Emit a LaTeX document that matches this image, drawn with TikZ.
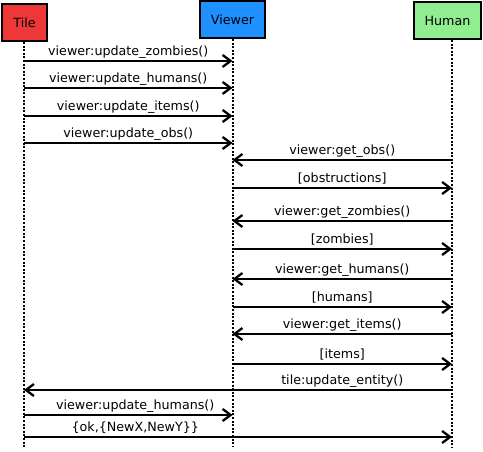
\documentclass[tikz,border=0pt]{standalone}
\usepackage{fontspec}
\setmainfont{DejaVu Sans}
\usepackage{tikz}
\usetikzlibrary{arrows.meta, calc}
\usetikzlibrary{positioning}
\definecolor{tilered}{HTML}{EE3838}
\definecolor{viewerblue}{HTML}{1E90FF}
\definecolor{humangreen}{HTML}{90EE90}
\tikzstyle{actor} = [
    rectangle, 
    draw=black, 
    line width=2pt, 
    font=\fontsize{12.7}{15}\selectfont, 
    inner sep=0pt, 
    minimum height=37pt
]
\tikzstyle{lifeline} = [
    line width=2pt, 
    dash pattern=on 2pt off 1.6pt
]
\tikzstyle{msg} = [
    line width=2.3pt, 
    -{Straight Barb[length=8pt,width=12pt]}
]
\tikzstyle{msglabel} = [
    font=\fontsize{12.7}{15}\selectfont, 
    inner sep=0pt, 
    anchor=base, 
    yshift=5.5pt
]

\begin{document}
\begin{tikzpicture}[x=1pt, y=-1pt]
\useasboundingbox (0,0) rectangle (483,452);
% actors
\node [actor, fill=tilered, minimum width=45pt] (tile) at (24.5,22.5) {Tile};
\node [actor, fill=viewerblue, minimum width=65pt] (viewer) at (232.5,19.5) {Viewer};
\node [actor, fill=humangreen, minimum width=67pt] (human) at (447.5,20.5) {Human};
% lifelines
\coordinate (tl) at (24,0);
\coordinate (vl) at (232.5,0);
\coordinate (hl) at (452,0);
\coordinate (bottom) at (0,447);
\draw [lifeline] (tile.south -| tl) -- (bottom -| tl);
\draw [lifeline] (viewer.south -| vl) -- (bottom -| vl);
\draw [lifeline] (human.south -| hl) -- (bottom -| hl);
% message rows
\coordinate (m1) at (0,61);
\coordinate (m2) at (0,88);
\coordinate (m3) at (0,116);
\coordinate (m4) at (0,143);
\coordinate (m5) at (0,160);
\coordinate (m6) at (0,188);
\coordinate (m7) at (0,221);
\coordinate (m8) at (0,249);
\coordinate (m9) at (0,279);
\coordinate (m10) at (0,307);
\coordinate (m11) at (0,334);
\coordinate (m12) at (0,364);
\coordinate (m13) at (0,390);
\coordinate (m14) at (0,415);
\coordinate (m15) at (0,437);
% messages
\draw [msg] (m1 -| tl) -- (m1 -| vl) node [msglabel, midway] (l1) {viewer:update\_zombies()};
\draw [msg] (m2 -| tl) -- (m2 -| vl) node [msglabel, midway] (l2) {viewer:update\_humans()};
\draw [msg] (m3 -| tl) -- (m3 -| vl) node [msglabel, midway] (l3) {viewer:update\_items()};
\draw [msg] (m4 -| tl) -- (m4 -| vl) node [msglabel, midway] (l4) {viewer:update\_obs()};
\draw [msg] (m5 -| hl) -- (m5 -| vl) node [msglabel, midway] (l5) {viewer:get\_obs()};
\draw [msg] (m6 -| vl) -- (m6 -| hl) node [msglabel, midway] (l6) {[obstructions]};
\draw [msg] (m7 -| hl) -- (m7 -| vl) node [msglabel, midway] (l7) {viewer:get\_zombies()};
\draw [msg] (m8 -| vl) -- (m8 -| hl) node [msglabel, midway] (l8) {[zombies]};
\draw [msg] (m9 -| hl) -- (m9 -| vl) node [msglabel, midway] (l9) {viewer:get\_humans()};
\draw [msg] (m10 -| vl) -- (m10 -| hl) node [msglabel, midway] (l10) {[humans]};
\draw [msg] (m11 -| hl) -- (m11 -| vl) node [msglabel, midway] (l11) {viewer:get\_items()};
\draw [msg] (m12 -| vl) -- (m12 -| hl) node [msglabel, midway] (l12) {[items]};
\draw [msg] (m13 -| hl) -- (m13 -| tl);
\node [msglabel] (l13) at ($(m13 -| hl)!0.5!(m13 -| vl)$) {tile:update\_entity()};
\draw [msg] (m14 -| tl) -- (m14 -| vl) node [msglabel, midway, xshift=7pt] (l14) {viewer:update\_humans()};
\draw [msg] (m15 -| tl) -- (m15 -| hl);
\node [msglabel, xshift=7pt] (l15) at ($(m15 -| tl)!0.5!(m15 -| vl)$) {\{ok,\{NewX,NewY\}\}};
\end{tikzpicture}
\end{document}
